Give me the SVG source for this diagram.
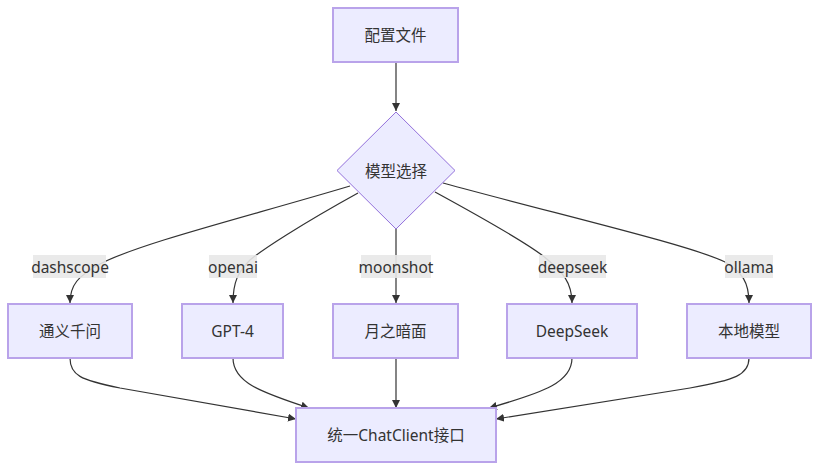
<svg xmlns="http://www.w3.org/2000/svg" width="820" height="470" viewBox="0 0 820 470">
<defs>
<style>
.node rect, .node polygon { fill: #ECECFF; stroke: #9370DB; stroke-width: 1px; }
.node rect { stroke: #B9A3EA; stroke-width: 2px; }
.lbl { font-family: "Noto Sans", "Noto Sans CJK SC", sans-serif; font-size: 15.5px; fill: #333333; text-anchor: middle; dominant-baseline: central; }
.edge { fill: none; stroke: #333333; stroke-width: 1.2px; marker-end: url(#arrow); }
.elbl rect { fill: #e8e8e8; opacity: 0.9; }
</style>
<marker id="arrow" viewBox="0 0 10 10" refX="10" refY="5" markerWidth="8" markerHeight="8" markerUnits="userSpaceOnUse" orient="auto">
<path d="M0,0 L10,5 L0,10 z" fill="#333333"/>
</marker>
</defs>
<rect width="820" height="470" fill="#ffffff"/>
<g id="connectors">
<path class="edge" d="M396,62 L396,111"/>
<path class="edge" d="M350,186 C250,216 140,243 100,264 C78,276 70,285 70,303"/>
<path class="edge" d="M358,193 C300,225 262,250 250,260 C238,272 233,282 233,303"/>
<path class="edge" d="M396,229 L396,303"/>
<path class="edge" d="M435,192 C490,222 535,248 548,260 C562,272 572,282 572,303"/>
<path class="edge" d="M443,183 C560,215 690,245 725,262 C742,272 749,282 749,303"/>
<path class="edge" d="M70,358 C70,375 80,380 120,388 L296,419"/>
<path class="edge" d="M233,358 C233,382 260,392 309,408"/>
<path class="edge" d="M396,358 L396,408"/>
<path class="edge" d="M572,358 C572,382 545,392 489,408"/>
<path class="edge" d="M749,358 C749,375 735,380 690,388 L496,419"/>
<g class="elbl"><rect x="33" y="255" width="73" height="23"/><text class="lbl" x="70" y="267">dashscope</text></g>
<g class="elbl"><rect x="209" y="255" width="48" height="23"/><text class="lbl" x="233" y="267">openai</text></g>
<g class="elbl"><rect x="361" y="255" width="70" height="23"/><text class="lbl" x="396" y="267">moonshot</text></g>
<g class="elbl"><rect x="539" y="255" width="67" height="23"/><text class="lbl" x="572.5" y="267">deepseek</text></g>
<g class="elbl"><rect x="725" y="255" width="48" height="23"/><text class="lbl" x="749" y="267">ollama</text></g>
</g>
<g id="config" class="node"><rect x="333" y="8" width="125" height="54"/><text class="lbl" x="395.5" y="35">配置文件</text></g>
<g id="select" class="node"><polygon points="396,112 455,170.5 396,229 337,170.5"/><text class="lbl" x="396" y="170.5">模型选择</text></g>
<g id="qwen" class="node"><rect x="8" y="304" width="124" height="54"/><text class="lbl" x="70" y="331">通义千问</text></g>
<g id="gpt4" class="node"><rect x="182" y="304" width="101" height="54"/><text class="lbl" x="232.5" y="331">GPT-4</text></g>
<g id="moon" class="node"><rect x="333" y="304" width="125" height="54"/><text class="lbl" x="395.5" y="331">月之暗面</text></g>
<g id="deepseek" class="node"><rect x="507" y="304" width="130" height="54"/><text class="lbl" x="572" y="331">DeepSeek</text></g>
<g id="local" class="node"><rect x="687" y="304" width="124" height="54"/><text class="lbl" x="749" y="331">本地模型</text></g>
<g id="client" class="node"><rect x="296" y="408" width="200" height="54"/><text class="lbl" x="396" y="435">统一ChatClient接口</text></g>
</svg>
